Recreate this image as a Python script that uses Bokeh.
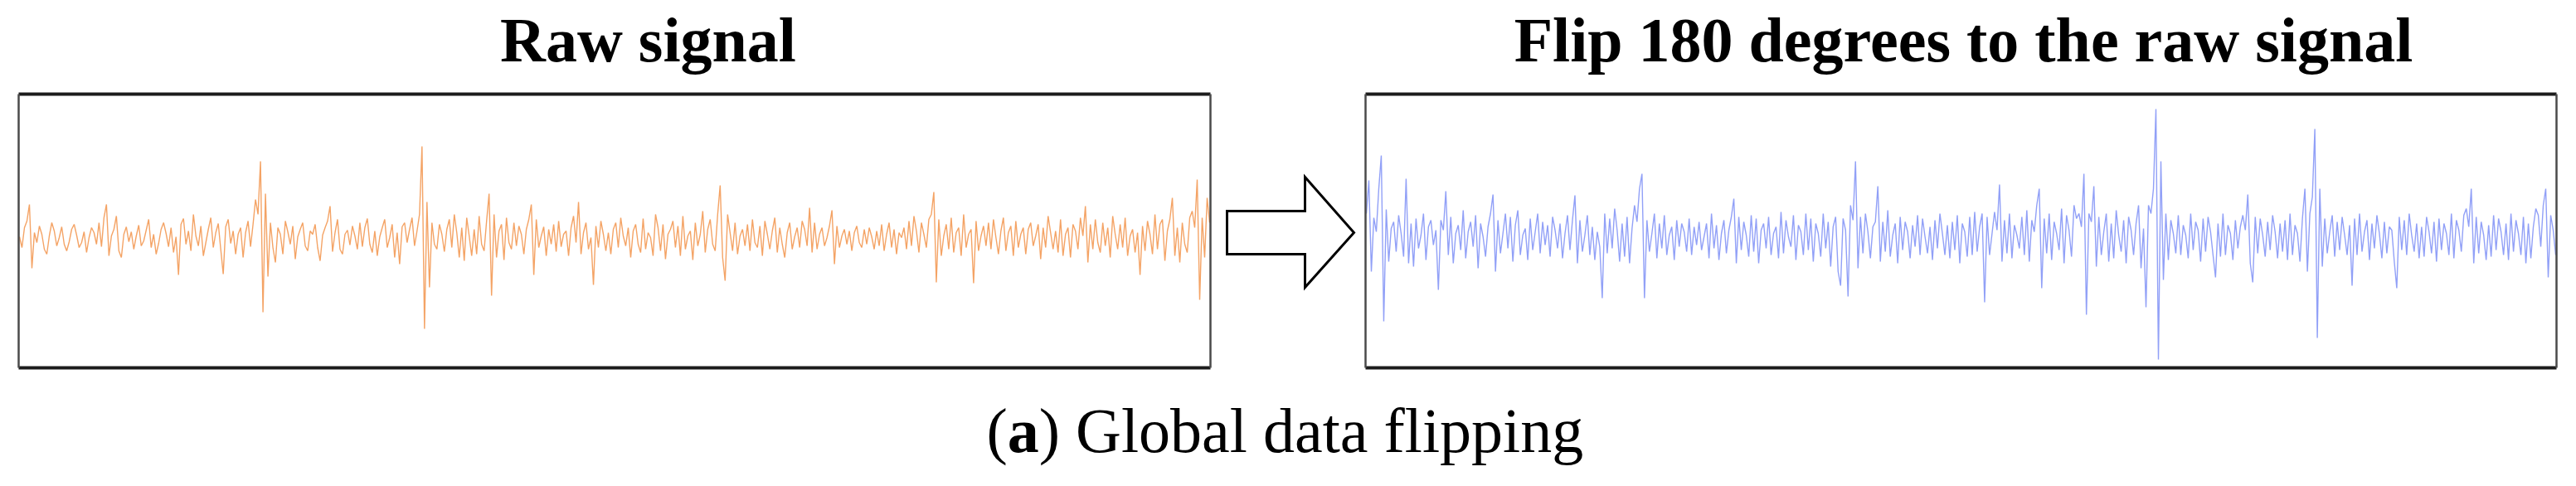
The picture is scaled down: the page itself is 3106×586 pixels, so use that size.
from bokeh.plotting import figure
from bokeh.models import Range1d
from bokeh.core.properties import value
from bokeh.embed import file_html
from bokeh.resources import INLINE

# ---------------- data (amplitudes, positive = up) ----------------
raw_signal = [
    3, -10, 14, 22, 42, -35, 8, -4, 16, 6, -12, -18, 4, 20, 10, -8, 2, 15, -6, -14,
    -3, 12, 18, 5, -10, -4, 9, -16, 2, 14, 8, -6, 20, -9, 26, 42, -20, 4, 12, 28,
    -14, -22, 6, 15, -3, 9, -12, 4, 17, -8, -2, 11, 24, -10, 6, -18, -5, 12, 20, 7,
    -9, 14, -16, 3, -43, 18, 25, -6, 10, -14, 30, 4, -8, 16, -20, -4, 12, 26, -10, 8,
    19, -12, -42, 15, 24, -5, 10, -18, 6, 14, -22, 8, 22, -9, 18, 48, 30, 94, -88, 55,
    -45, 20, -10, -28, 14, 6, -18, 22, 9, -6, 16, -24, 3, 12, 20, -8, -14, 10, 6, 18,
    -10, -26, 5, 14, 22, 40, -15, 8, 24, -12, -18, 6, 11, -7, 16, 4, -12, 20, -9, 14,
    25, -6, -16, 10, -20, 3, 14, 24, -10, 2, 18, -22, 8, -30, 15, 20, -4, 12, 26, -8,
    10, 30, 112, -108, 45, -58, 20, -6, -12, 18, 6, -15, 12, 24, -10, 30, 8, -22, 14, -26,
    26, 4, -20, 12, -18, 28, -6, -14, 22, 55, -68, 30, -22, 10, 18, -25, 26, -4, -12, 20,
    -8, 16, 6, -18, 12, 24, 42, -43, 24, -10, 4, 15, -20, 12, -6, 18, -15, 22, -9, 6,
    10, -20, 14, 28, -4, 45, -18, 8, 20, -12, 2, -55, 16, -10, 22, 6, -14, 8, -18, 12,
    20, -10, 26, 4, -8, 14, -22, 10, 18, -6, -16, 25, -12, 8, 2, -20, 30, 14, -14, 18,
    -24, 6, 12, 22, -10, 16, -20, 28, -12, 4, 10, -25, 20, -8, 6, 34, -16, 12, 24, -6,
    -14, 30, 65, -22, -50, 30, 8, -14, 20, -18, 4, 12, -8, 18, -14, 24, -4, -10, 16, -20,
    22, 6, -12, 10, 26, -16, 14, -6, -22, 8, 20, -12, 3, 14, -10, 22, 12, -8, 38, -16,
    20, -12, 6, 14, -8, 2, 16, 35, -30, 16, -10, 4, 12, -6, 10, -14, 8, 16, -4, -10,
    12, -6, 14, 3, -12, 10, -8, 18, -14, 6, 20, -10, 12, -18, 8, 2, 14, -12, 22, -8,
    28, 10, -16, 20, 6, -10, 24, 30, 57, -52, 24, -20, 4, 18, -12, 26, -16, 8, 14, -20,
    30, -10, 6, 12, -53, 22, -14, 4, 16, -8, 20, -12, 24, 2, -18, 10, 26, -14, 8, 16,
    -20, 22, -10, 6, 14, -18, 12, 20, -8, 4, 18, -24, 14, -10, 28, 8, -12, 10, -16, 24,
    -20, 6, 14, -22, 18, 10, -12, 26, 4, 40, -28, 18, -12, 24, -4, -16, 20, -8, 14, -22,
    28, 6, -12, 18, -10, 26, -20, 4, 12, -16, 8, -43, 16, -14, 22, 6, -18, 30, -12, 18,
    24, -26, 10, 24, 50, -20, 14, -28, 20, -6, -16, 26, 34, 14, 72, -73, 26, -22, 50, 20,
]

flipped_signal = [
    30, 70, -40, 25, 8, 60, 100, -100, 35, -28, 12, 20, -16, 28, 6, -22, 72, -30, 18, -34,
    24, -12, 4, 30, -26, 14, 22, -8, 10, -62, 22, 10, 57, -20, 26, -30, 6, 16, -14, 34,
    -24, 8, 20, -10, 28, -36, 18, 2, -22, 14, 30, 53, -40, 22, -18, 6, 30, -12, 26, -28,
    16, 34, -20, 4, 12, -26, 24, -14, 8, 30, -18, 20, -8, 16, -22, 26, 10, -12, 18, -24,
    6, 28, -14, 22, 52, -30, 22, -16, 4, 28, -20, 14, -26, 8, -10, -72, 30, -18, 24, -12,
    36, 10, -28, 18, -22, 26, -30, 12, 40, 20, 60, 78, -72, 22, -16, 6, 30, -24, 18, -12,
    28, -20, 4, 14, -26, 22, -10, 18, 8, -16, 24, -20, 14, -8, 20, -14, 2, 18, -24, 30,
    -12, 16, -26, 6, 22, -18, 10, 26, 48, -30, 26, -14, 20, 4, -22, 28, -16, 24, -30, 10,
    18, -12, 26, -20, 6, 14, -24, 32, -18, 22, 2, -10, 28, -26, 16, 8, -20, 30, -14, 24,
    -28, 18, 6, -22, 30, -12, 20, -34, 14, 26, -40, -57, 24, 10, -70, 40, 22, 93, -36, 26,
    -18, 30, 8, -24, 14, 20, 63, -28, 20, -16, 34, -22, 4, 18, -30, 26, -14, 20, 8, -24,
    16, -10, 28, -20, 24, 2, -18, 14, -26, 22, -12, 30, 6, -20, 16, -24, 20, -14, 28, -30,
    18, 8, -22, 26, -20, 32, -16, 14, 30, -77, 26, -20, 6, 32, 10, 65, -28, 22, -18, 30,
    -24, 16, 4, -12, 26, -20, 34, -28, 22, 8, 40, 60, -60, 24, -18, 30, -26, 20, 6, -14,
    36, -30, 28, 10, -22, 40, 24, 30, 14, 78, -92, 30, 20, 63, -34, 26, -20, 8, 30, -28,
    18, -24, 34, 4, -16, 22, -30, 26, 10, -20, 18, 40, -36, 12, -83, 40, 30, 60, 156, -146,
    93, -50, 30, -26, 22, 6, -18, 28, -20, 16, 4, -24, 30, -14, 20, 10, -28, 24, -16, 26,
    8, -20, -47, 18, -22, 30, -20, 16, 6, -26, 22, -12, 14, 28, 10, 53, -30, -53, 26, -18,
    24, 4, -22, 20, -14, 28, 8, -24, 18, -16, 22, -26, 30, -20, 16, 6, -28, 24, 60, -40,
    30, 50, 132, -120, 60, -34, 24, -18, 8, 28, -22, 20, -14, 26, 4, -20, 16, -57, 24, -20,
    30, -16, 8, 22, -26, 18, -12, 28, 6, -24, 20, -18, 14, 10, -28, -60, 26, -14, 22, -20,
    30, 4, -16, 18, -24, 14, -22, 26, 8, -18, 20, -28, 24, -14, 18, 6, -20, 30, -24, 22,
    10, -16, 28, 36, 14, 60, -30, 26, -18, 20, 4, -26, 16, -22, 28, -14, 24, 8, -20, 18,
    -26, 30, -16, 22, 6, -20, 26, -30, 18, -24, 14, 36, 28, -10, 40, 60, -47, 28, 10, -20,
]

title_left = "Raw signal"
title_right = "Flip 180 degrees to the raw signal"
caption_open = "("
caption_label = "a"
caption_text = ") Global data flipping"

# ---------------- layout constants (canvas pixels, y downwards) ----------------
W, H = 3106, 586
BOX_TOP, BOX_BOTTOM = 113, 443
LEFT_BOX = (22, 1459)
RIGHT_BOX = (1646, 3082)
FONT = "Liberation Serif"
FS = 76

p = figure(width=W, height=H, output_backend="svg", toolbar_location=None,
           x_range=Range1d(0, W), y_range=Range1d(H, 0),
           x_axis_type=None, y_axis_type=None, min_border=0)
p.outline_line_color = None
p.background_fill_color = "white"
p.border_fill_color = "white"


def add_signal(name, values, x_left, x_right, base, color, alpha):
    n = len(values)
    dx = (x_right - x_left) / (n - 1)
    p.extra_x_ranges[name + "_x"] = Range1d(-x_left / dx, (W - x_left) / dx)
    p.extra_y_ranges[name + "_y"] = Range1d(base - H, base)
    p.line(x=list(range(n)), y=values, x_range_name=name + "_x",
           y_range_name=name + "_y", line_color=color, line_alpha=alpha,
           line_width=1.4)


add_signal("raw", raw_signal, LEFT_BOX[0] + 1, LEFT_BOX[1] - 1, 288, "#F07F2A", 0.72)
add_signal("flip", flipped_signal, RIGHT_BOX[0] + 1, RIGHT_BOX[1] - 1, 287, "#4D66F2", 0.62)

# box frames
for (l, r) in (LEFT_BOX, RIGHT_BOX):
    p.segment(x0=[l, l], y0=[BOX_TOP, BOX_BOTTOM], x1=[r, r], y1=[BOX_TOP, BOX_BOTTOM],
              line_color="#1c1c1c", line_width=4)
    p.segment(x0=[l, r], y0=[BOX_TOP, BOX_TOP], x1=[l, r], y1=[BOX_BOTTOM, BOX_BOTTOM],
              line_color="#4a4a4a", line_width=2.5)

# arrow
ax0, ax1, atip = 1479, 1573, 1632
p.patch(x=[ax0, ax1, ax1, atip, ax1, ax1, ax0],
        y=[254, 254, 213, 280, 346, 306, 306],
        fill_color="white", line_color="black", line_width=3, line_join="miter")

# titles
p.text(x=[781], y=[47], text=[title_left], text_font=value(FONT), text_font_style="bold",
       text_font_size=f"{FS}px", text_align="center", text_baseline="middle",
       text_color="black")
p.text(x=[2367], y=[47], text=[title_right], text_font=value(FONT), text_font_style="bold",
       text_font_size=f"{FS}px", text_align="center", text_baseline="middle",
       text_color="black")

# caption "(a) Global data flipping"
cx, cy = 1189, 518
p.text(x=[cx], y=[cy], text=[caption_open], text_font=value(FONT),
       text_font_size=f"{FS}px", text_align="left", text_baseline="middle",
       text_color="black")
p.text(x=[cx + 0.333 * FS], y=[cy], text=[caption_label], text_font=value(FONT),
       text_font_style="bold", text_font_size=f"{FS}px", text_align="left",
       text_baseline="middle", text_color="black")
p.text(x=[cx + 0.833 * FS], y=[cy], text=[caption_text], text_font=value(FONT),
       text_font_size=f"{FS}px", text_align="left", text_baseline="middle",
       text_color="black")

open("out.html", "w").write(file_html(p, INLINE))
